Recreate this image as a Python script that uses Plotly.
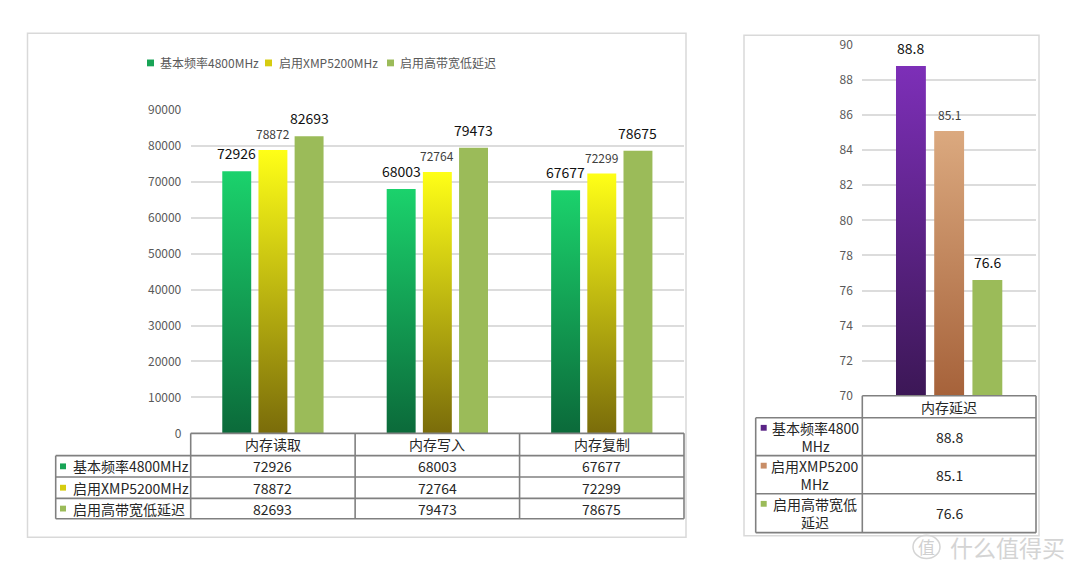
import plotly.graph_objects as go

# ---------------- data ----------------
categories = ["内存读取", "内存写入", "内存复制"]
series_names = ["基本频率4800MHz", "启用XMP5200MHz", "启用高带宽低延迟"]
base_vals = [72926, 68003, 67677]
xmp_vals = [78872, 72764, 72299]
hb_vals = [82693, 79473, 78675]
y_ticks = [0, 10000, 20000, 30000, 40000, 50000, 60000, 70000, 80000, 90000]

lat_category = ["内存延迟"]
lat_names = ["基本频率4800<br>MHz", "启用XMP5200<br>MHz", "启用高带宽低<br>延迟"]
lat_vals = [88.8, 85.1, 76.6]
lat_ticks = [70, 72, 74, 76, 78, 80, 82, 84, 86, 88, 90]

# ---------------- styles ----------------
W, H = 1080, 585
FONT = "Noto Sans CJK SC"
left_styles = [
    dict(grad=["#0b6a3a", "#1bd26c"], legend="#18a456", lab_size=14, lab_color="#111111"),
    dict(grad=["#7a6c0a", "#ffff17"], legend="#d6cc10", lab_size=12, lab_color="#404040"),
    dict(solid="#9bbb59", legend="#9bbb59", lab_size=14, lab_color="#111111"),
]
right_styles = [
    dict(grad=["#3c1756", "#7d2fb8"], legend="#5a2486", lab_size=14, lab_color="#111111"),
    dict(grad=["#a6623a", "#dba97f"], legend="#c88d67", lab_size=12, lab_color="#404040"),
    dict(solid="#9bbb59", legend="#9bbb59", lab_size=14, lab_color="#111111"),
]
GRID = "#dcdcdc"
TABLE_LINE = "#808080"
FRAME = "#d9d9d9"
TICK_COLOR = "#595959"
TEXT = "#262626"


def px(x):
    return x / W


def py(y):
    return 1 - y / H


fig = go.Figure()


# ---------------- bars ----------------
def add_bars(vals_list, styles, xref, yref, step, bw, base):
    for j, (vals, st) in enumerate(zip(vals_list, styles)):
        for i, v in enumerate(vals):
            c = i + 0.5 + (j - 1) * step
            xs = [c - bw / 2, c - bw / 2, c + bw / 2, c + bw / 2, c - bw / 2]
            ys = [base, v, v, base, base]
            kw = dict(x=xs, y=ys, mode="lines", fill="toself", line=dict(width=0),
                      xaxis=xref, yaxis=yref, hoverinfo="skip", showlegend=False)
            if "grad" in st:
                kw["fillgradient"] = dict(type="vertical",
                                          colorscale=[[0, st["grad"][0]], [1, st["grad"][1]]])
            else:
                kw["fillcolor"] = st["solid"]
            fig.add_trace(go.Scatter(**kw))
            fig.add_annotation(x=c, y=v, xref=xref, yref=yref, text=str(v),
                               showarrow=False, yanchor="bottom", yshift=6,
                               font=dict(family=FONT, size=st["lab_size"], color=st["lab_color"]))


add_bars([base_vals, xmp_vals, hb_vals], left_styles, "x", "y", 0.22, 0.176, 0)
add_bars([[v] for v in lat_vals], right_styles, "x2", "y2", 0.22, 0.172, 70)

shapes = []
annots = []


def line(x0, y0, x1, y1, color=TABLE_LINE, width=1.6):
    shapes.append(dict(type="line", xref="paper", yref="paper",
                       x0=px(x0), y0=py(y0), x1=px(x1), y1=py(y1),
                       line=dict(color=color, width=width)))


def square(x0, y0, size, color):
    shapes.append(dict(type="rect", xref="paper", yref="paper",
                       x0=px(x0), y0=py(y0), x1=px(x0 + size), y1=py(y0 + size),
                       line=dict(width=0), fillcolor=color))


def text(x, y, s, size=14, color=TEXT, xanchor="center"):
    annots.append(dict(x=px(x), y=py(y), xref="paper", yref="paper", text=s,
                       showarrow=False, xanchor=xanchor, yanchor="middle",
                       font=dict(family=FONT, size=size, color=color)))


# frames
shapes.append(dict(type="rect", xref="paper", yref="paper", x0=px(27.5), y0=py(24),
                   x1=px(686), y1=py(543), line=dict(color=FRAME, width=1.5)))
shapes.append(dict(type="rect", xref="paper", yref="paper", x0=px(744), y0=py(26),
                   x1=px(1039), y1=py(541.5), line=dict(color=FRAME, width=1.5)))

# ---------------- legend (left) ----------------
leg_sq = [147, 265, 387]
leg_tx = [158, 277, 398]
for name, st, sx, tx in zip(series_names, left_styles, leg_sq, leg_tx):
    square(sx, 51, 7, st["legend"])
    text(tx, 54.5, name, size=12, color=TICK_COLOR, xanchor="left")

# ---------------- left table ----------------
LX0, LX1, LXR = 55.7, 190.7, 684
col_w = (LXR - LX1) / len(categories)
rows_y = [436, 459, 481, 503, 524]
line(LX1, rows_y[0], LXR, rows_y[0])
for yy in rows_y[1:]:
    line(LX0, yy, LXR, yy)
line(LX0, rows_y[1], LX0, rows_y[-1])
for k in range(len(categories) + 1):
    xx = LX1 + k * col_w
    line(xx, rows_y[0], xx, rows_y[-1])
for k, cat in enumerate(categories):
    text(LX1 + (k + 0.5) * col_w, (rows_y[0] + rows_y[1]) / 2, cat)
for r, (name, vals, st) in enumerate(zip(series_names, [base_vals, xmp_vals, hb_vals], left_styles)):
    yc = (rows_y[r + 1] + rows_y[r + 2]) / 2
    square(60, yc - 3, 6, st["legend"])
    text(71, yc, name, xanchor="left")
    for k, v in enumerate(vals):
        text(LX1 + (k + 0.5) * col_w, yc, str(v))

# ---------------- right table ----------------
RX0, RX1, RXR = 755.7, 862.3, 1036
rrows = [397.3, 420, 459, 498.3, 538.3]
line(RX1, rrows[0], RXR, rrows[0])
for yy in rrows[1:]:
    line(RX0, yy, RXR, yy)
line(RX0, rrows[1], RX0, rrows[-1])
line(RX1, rrows[0], RX1, rrows[-1])
line(RXR, rrows[0], RXR, rrows[-1])
text((RX1 + RXR) / 2, (rrows[0] + rrows[1]) / 2, lat_category[0])
for r, (name, v, st) in enumerate(zip(lat_names, lat_vals, right_styles)):
    yc = (rrows[r + 1] + rrows[r + 2]) / 2
    square(760.7, rrows[r + 1] + 7.3, 6, st["legend"])
    text(815, yc, name)
    text((RX1 + RXR) / 2, yc, str(v))

# ---------------- watermark ----------------
shapes.append(dict(type="circle", xref="paper", yref="paper", x0=px(913), y0=py(541),
                   x1=px(940), y1=py(565), line=dict(color="#d4d4d4", width=1.5)))
text(926.5, 553, "值", size=17, color="#d0d0d0")
text(948, 553, "什么值得买", size=23, color="#d4d4d4", xanchor="left")

axis_font = dict(family=FONT, size=12, color=TICK_COLOR)
fig.update_layout(
    width=W, height=H, margin=dict(l=0, r=0, t=0, b=0),
    paper_bgcolor="white", plot_bgcolor="white", showlegend=False,
    shapes=shapes, annotations=list(fig.layout.annotations) + annots,
    xaxis=dict(domain=[px(190.7), px(684)], range=[0, 3], showgrid=False, zeroline=False,
               showticklabels=False, fixedrange=True),
    yaxis=dict(domain=[py(436), py(103)], range=[0, 90000], tickvals=y_ticks,
               ticktext=[str(t) for t in y_ticks], showgrid=True, gridcolor=GRID, gridwidth=2,
               zeroline=False, ticks="outside", ticklen=6, tickcolor="rgba(0,0,0,0)",
               tickfont=axis_font, fixedrange=True),
    xaxis2=dict(domain=[px(862.3), px(1036)], range=[0, 1], showgrid=False, zeroline=False,
                showticklabels=False, anchor="y2", fixedrange=True),
    yaxis2=dict(domain=[py(397.3), py(36)], range=[70, 90], tickvals=lat_ticks,
                ticktext=[str(t) for t in lat_ticks], showgrid=True, gridcolor=GRID, gridwidth=2,
                zeroline=False, ticks="outside", ticklen=6, tickcolor="rgba(0,0,0,0)",
                tickfont=axis_font, anchor="x2", fixedrange=True),
)

fig.write_html("out.html")
